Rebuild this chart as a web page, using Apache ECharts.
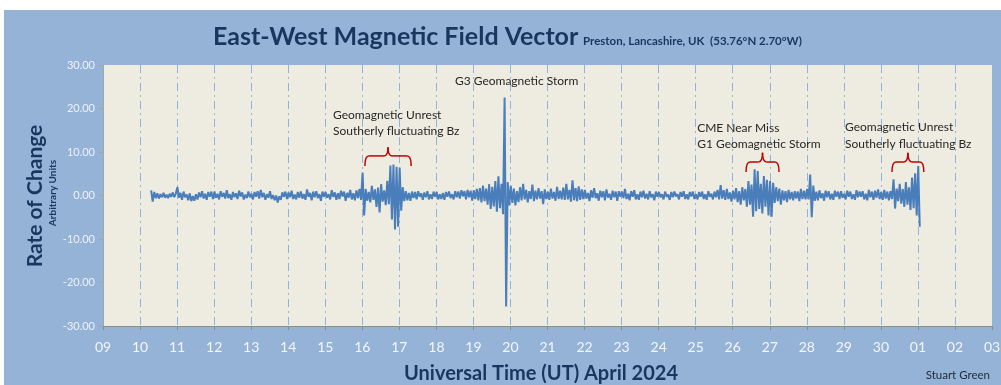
<!DOCTYPE html>
<html><head><meta charset="utf-8">
<script src="https://cdn.jsdelivr.net/npm/echarts@6/dist/echarts.min.js"></script>
<style>
html,body{margin:0;padding:0;background:#ffffff;}
#bg{position:absolute;left:4px;top:10px;width:997px;height:375px;background:#95b3d7;}
#c{position:absolute;left:0;top:0;width:1001px;height:385px;}
</style>
</head><body><div id="bg"></div><div id="c"></div>
<script>
// X tick labels (day of month, 09 April .. 03 May 2024)
const dayLabels = ['09','10','11','12','13','14','15','16','17','18','19','20','21','22','23','24','25','26','27','28','29','30','01','02','03'];
const yTicks = [-30, -20, -10, 0, 10, 20, 30];
// Hourly samples starting 10 April ~07:12 UT (day value 10.30)
const startDay = 10.30;
const stepDay = 1 / 24;
const ewValues = [
  // 10 Apr (partial)
  1.2,-1.4,0.8,-0.6,0.5,-0.7,0.3,-0.4,0.6,-0.5,0.2,-0.6,0.4,-0.3,0.7,-0.4,0.5,
  // 11 Apr
  1.9,-0.5,0.6,-1.0,0.9,-0.4, 0.2,-1.1,0.5,-1.3,-0.1,-1.2, 0.3,-0.9,0.7,-0.4,1.0,-0.7, 0.4,-1.0,0.8,-0.3,0.9,-0.8,
  // 12 Apr
  0.9,-0.5,0.4,-0.9,1.0,-0.3, 0.6,-0.7,1.2,-0.6,0.3,-1.0, 0.8,-0.4,0.5,-0.8,1.1,-0.2, 0.7,-0.9,0.2,-0.6,0.9,-0.4,
  // 13 Apr
  0.4,-0.9,0.8,-0.3,1.0,-0.7, 1.3,-0.4,0.6,-1.0,0.3,-0.5, 1.0,-0.8,0.1,-1.1,0.0,-1.6, -0.2,-1.0,0.7,-0.3,0.9,-0.8,
  // 14 Apr
  0.7,-0.4,1.1,-0.8,0.2,-0.9, 0.8,-0.5,0.9,-0.7,0.3,-1.0, 1.4,-0.3,0.6,-1.1,0.9,-0.4, 1.0,-0.6,0.3,-1.2,0.9,-0.3,
  // 15 Apr
  0.8,-0.5,0.3,-0.9,1.2,-0.3, 0.7,-1.0,0.5,-0.8,1.1,-0.2, 0.9,-1.2,0.6,-0.5,1.3,-0.9, 0.5,-1.1,1.2,-0.6,1.5,-1.0,
  // 16 Apr
  5.3,-4.6,1.5,-1.2,0.8,-1.6, 2.2,-1.0,1.4,-2.6,1.8,-3.9, 2.6,-1.4,1.2,-2.2,3.4,-2.0, 6.9,-5.5,7.1,-7.8,6.6,-7.2,
  // 17 Apr
  6.4,-3.5,1.9,-1.3,1.0,-1.1, 0.6,-1.2,0.9,-0.6,0.8,-0.9, 1.0,-0.3,0.5,-1.0,0.7,-0.4, 1.0,-0.9,0.3,-0.8,0.9,-0.3,
  // 18 Apr
  0.8,-0.9,0.3,-0.8,0.6,-1.0, 0.8,-0.3,0.9,-0.6,0.3,-0.9, 1.0,-0.4,0.9,-0.7,1.2,-0.2, 1.0,-0.9,1.3,-0.4,1.1,-1.2,
  // 19 Apr
  1.2,-0.8,1.5,-1.1,1.7,-1.6, 2.3,-1.3,1.6,-2.1,2.6,-3.1, 2.0,-2.5,3.3,-3.7,4.4,-2.9, 2.7,-4.3,22.5,-25.5,3.1,-2.3,
  // 20 Apr
  2.2,-1.7,1.6,-2.3,1.0,-1.5, 1.9,-1.1,2.7,-0.9,1.3,-1.6, 1.0,-0.8,2.5,-1.3,1.1,-0.9, 1.7,-0.7,1.0,-2.0,1.4,-0.8,
  // 21 Apr
  0.9,-1.0,1.6,-0.7,0.8,-1.2, 2.0,-0.8,1.1,-0.9,1.8,-1.0, 2.7,-0.9,1.3,-1.4,3.5,-1.1, 1.7,-1.3,2.1,-1.0,1.4,-0.8,
  // 22 Apr
  1.3,-0.7,0.6,-1.3,1.2,-0.5, 1.7,-0.6,0.5,-1.2,1.1,-0.4, 1.0,-1.1,1.4,-0.5,0.4,-1.0, 1.1,-0.4,0.9,-1.2,1.0,-0.3,
  // 23 Apr
  0.9,-0.6,1.5,-0.8,0.4,-1.1, 1.0,-0.3,1.2,-0.9,0.3,-1.0, 0.9,-0.4,1.1,-0.7,0.4,-0.9, 1.0,-0.4,0.3,-1.1,0.9,-0.3,
  // 24 Apr
  0.8,-0.4,0.3,-0.9,0.9,-0.3, 0.2,-1.0,0.8,-0.4,0.9,-0.2, 0.3,-0.9,0.8,-0.3,1.0,-0.8, 0.3,-0.9,0.8,-0.2,0.9,-0.8,
  // 25 Apr
  0.3,-0.9,0.8,-0.3,0.9,-0.8, 0.3,-1.0,1.0,-0.3,0.4,-0.9, 0.9,-0.4,1.3,-0.9,2.4,-0.7, 1.2,-1.0,1.5,-0.8,0.7,-1.4,
  // 26 Apr
  1.1,-0.9,1.7,-1.5,1.0,-2.1, 1.9,-1.1,1.5,-2.6,3.3,-2.1, 2.5,-4.9,6.0,-3.6,5.6,-3.1, 2.7,-4.1,4.5,-2.6,3.6,-4.6,
  // 27 Apr
  3.3,-4.9,2.9,-1.7,1.9,-1.3, 1.6,-2.1,1.2,-1.1,1.0,-1.5, 1.3,-0.9,0.8,-1.1,1.0,-0.7, 0.9,-1.3,1.5,-0.8,1.1,-0.9,
  // 28 Apr
  1.5,-0.9,4.8,-5.0,2.3,-1.2, 0.9,-1.1,1.2,-0.6,0.5,-1.2, 1.1,-0.4,1.0,-0.9,0.4,-1.0, 1.1,-0.3,0.9,-0.8,1.0,-0.5,
  // 29 Apr
  0.4,-0.9,1.1,-0.3,0.9,-0.8, 0.3,-1.0,1.2,-0.4,0.9,-0.3, 1.0,-0.9,0.4,-1.1,1.3,-0.4, 0.9,-1.0,1.1,-0.5,1.4,-0.8,
  // 30 Apr
  0.8,-1.0,1.3,-0.7,0.9,-1.1, 1.0,-0.8,3.7,-3.0,1.6,-1.3, 2.7,-1.9,1.5,-2.6,3.1,-2.1, 1.9,-3.3,4.1,-2.9,5.1,-4.6,
  // 01 May (partial)
  6.8,-7.2
];
// Annotation text anchors in data coordinates [day, value]
const noteTexts = [
  { text: 'G3 Geomagnetic Storm', at: [18.50, 26.3] },
  { text: 'Geomagnetic Unrest', at: [15.21, 18.5] },
  { text: 'Southerly fluctuating Bz', at: [15.21, 14.8] },
  { text: 'CME Near Miss', at: [25.04, 15.5] },
  { text: 'G1 Geomagnetic Storm', at: [25.04, 11.8] },
  { text: 'Geomagnetic Unrest', at: [29.03, 15.7] },
  { text: 'Southerly fluctuating Bz', at: [29.03, 11.9] }
];
// Braces: [dayStart, dayEnd, endValue, barValue, peakValue]
const braces = [
  [16.07, 17.32, 6.8, 9.1, 11.1],
  [26.36, 27.25, 5.4, 7.7, 9.8],
  [30.30, 31.16, 5.4, 7.7, 9.8]
];

const seriesData = ewValues.map((v, i) => [startDay + i * stepDay, v]);
const FONT = 'Lato, "Open Sans", sans-serif';
const chart = echarts.init(document.getElementById('c'), null, { renderer: 'canvas' });

chart.setOption({
  animation: false,
  backgroundColor: 'transparent',
  grid: { left: 103, right: 9, top: 65, bottom: 59, show: true, backgroundColor: '#eeece1', borderWidth: 0, containLabel: false, outerBoundsMode: 'none' },
  xAxis: {
    type: 'value', min: 9, max: 33, interval: 1,
    axisLine: { show: true, onZero: false, lineStyle: { color: '#8c8c8c', width: 1 } },
    axisTick: { show: true, length: 4, lineStyle: { color: '#8c8c8c' } },
    axisLabel: { color: '#f4f6fa', fontSize: 14, fontFamily: FONT, margin: 14,
      formatter: v => dayLabels[Math.round(v - 9)] || '' },
    splitLine: { show: true, lineStyle: { color: '#8fb3df', width: 1, type: [8, 4, 2, 4] } }
  },
  yAxis: {
    type: 'value', min: yTicks[0], max: yTicks[yTicks.length - 1], interval: 10,
    axisLine: { show: true, onZero: false, lineStyle: { color: '#a6a6a6', width: 1 } },
    axisTick: { show: true, length: 4, lineStyle: { color: '#a6a6a6' } },
    axisLabel: { color: '#eef2f8', fontSize: 11, fontFamily: FONT, margin: 8,
      formatter: v => v.toFixed(2) },
    splitLine: { show: false }
  },
  series: [{
    type: 'line', data: seriesData, showSymbol: false, symbol: 'none',
    lineStyle: { color: '#4a7ebb', width: 2 }, z: 3
  }]
});

function px(p) { return chart.convertToPixel({ gridIndex: 0 }, p); }

const graphics = [
  { type: 'text', x: 213, y: 37, style: { text: 'East-West Magnetic Field Vector', fill: '#17375e', font: 'bold 25px ' + FONT, align: 'left', verticalAlign: 'middle' } },
  { type: 'text', x: 583, y: 41, style: { text: 'Preston, Lancashire, UK  (53.76°N 2.70°W)', fill: '#17375e', font: 'bold 11.5px ' + FONT, align: 'left', verticalAlign: 'middle' } },
  { type: 'text', x: 35, y: 196, rotation: Math.PI / 2, style: { text: 'Rate of Change', fill: '#17375e', font: 'bold 21px ' + FONT, align: 'center', verticalAlign: 'middle' } },
  { type: 'text', x: 53, y: 193, rotation: Math.PI / 2, style: { text: 'Arbitrary Units', fill: '#17375e', font: 'bold 10px ' + FONT, align: 'center', verticalAlign: 'middle' } },
  { type: 'text', x: 541, y: 374, style: { text: 'Universal Time (UT) April 2024', fill: '#17375e', font: 'bold 20px ' + FONT, align: 'center', verticalAlign: 'middle' } },
  { type: 'text', x: 990, y: 375, style: { text: 'Stuart Green', fill: '#1f2a3a', font: '11.5px ' + FONT, align: 'right', verticalAlign: 'middle' } }
];
noteTexts.forEach(n => {
  const p = px(n.at);
  graphics.push({ type: 'text', x: p[0], y: p[1], z: 10, style: { text: n.text, fill: '#262626', font: '12px ' + FONT, align: 'left', verticalAlign: 'middle' } });
});
const braceStyle = { fill: null, stroke: '#c00000', lineWidth: 1.5 };
braces.forEach(b => {
  const a = px([b[0], b[2]]), c = px([b[1], b[2]]);
  const ym = px([b[0], b[3]])[1], yt = px([b[0], b[4]])[1];
  const x0 = a[0], x1 = c[0], yb = a[1], xc = (x0 + x1) / 2, r = 4;
  graphics.push(
    { type: 'bezierCurve', z: 10, shape: { x1: x0, y1: yb, x2: x0 + r, y2: ym, cpx1: x0, cpy1: ym }, style: braceStyle },
    { type: 'line', z: 10, shape: { x1: x0 + r, y1: ym, x2: xc - r, y2: ym }, style: braceStyle },
    { type: 'bezierCurve', z: 10, shape: { x1: xc - r, y1: ym, x2: xc, y2: yt, cpx1: xc, cpy1: ym }, style: braceStyle },
    { type: 'bezierCurve', z: 10, shape: { x1: xc, y1: yt, x2: xc + r, y2: ym, cpx1: xc, cpy1: ym }, style: braceStyle },
    { type: 'line', z: 10, shape: { x1: xc + r, y1: ym, x2: x1 - r, y2: ym }, style: braceStyle },
    { type: 'bezierCurve', z: 10, shape: { x1: x1 - r, y1: ym, x2: x1, y2: yb, cpx1: x1, cpy1: ym }, style: braceStyle }
  );
});
chart.setOption({ graphic: graphics });
</script>
</body></html>
